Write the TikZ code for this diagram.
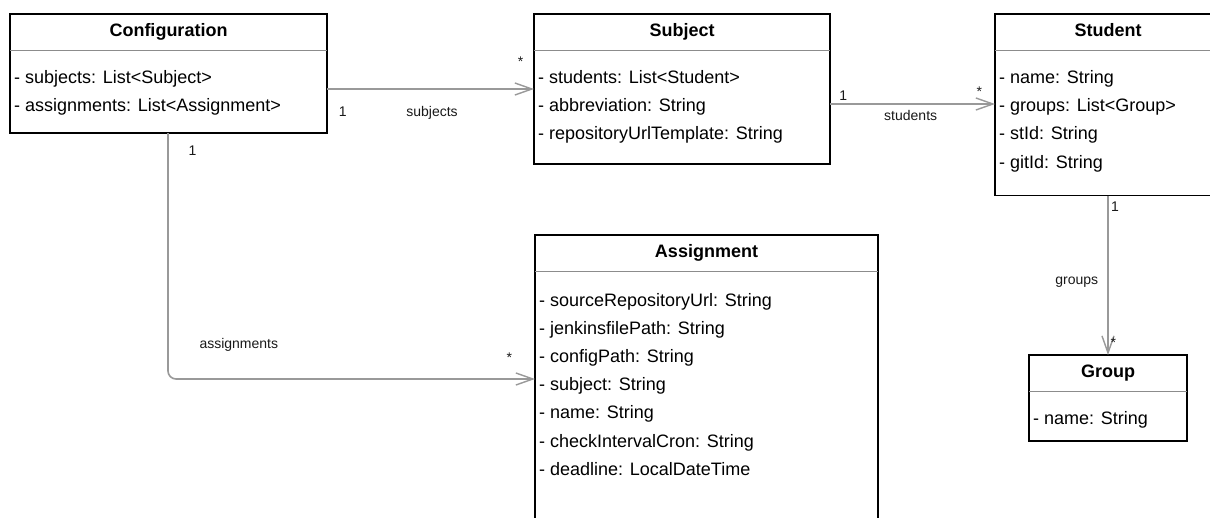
\documentclass[tikz,border=0pt]{standalone}
\usepackage{fontspec}
\setmainfont{Liberation Sans}
\usetikzlibrary{arrows.meta}

\begin{document}
\begin{tikzpicture}[x=1pt,y=-1pt,
  classbox/.style={draw=black, line width=1.4pt, rectangle, inner sep=0pt, outer sep=0pt, anchor=north west},
  divider/.style={draw=black!45, line width=0.9pt},
  title/.style={font=\bfseries\fontsize{18}{18}\selectfont, anchor=base, inner sep=0pt},
  attr/.style={font=\fontsize{18}{18}\selectfont, anchor=base west, inner sep=0pt},
  lbl/.style={font=\fontsize{14}{14}\selectfont, anchor=base, inner sep=0pt, text=black!90},
  assoc/.style={draw=black!40, line width=1.6pt, -{Straight Barb[length=17pt,width=12pt,line width=1.4pt]}},
]
\fill[white] (0,0) rectangle (1210,517);
\useasboundingbox (0,0) rectangle (1210,517);
\clip (0,0) rectangle (1210,517);

% class boxes
\node[classbox, minimum width=317pt, minimum height=119pt] (conf) at (10,14) {};
\node[classbox, minimum width=296pt, minimum height=150pt] (subj) at (534,14) {};
\node[classbox, minimum width=230pt, minimum height=181.5pt] (stud) at (995,14) {};
\node[classbox, minimum width=343pt, minimum height=300pt] (asg) at (535,235) {};
\node[classbox, minimum width=158pt, minimum height=86pt] (grp) at (1029,355) {};

% header separators
\foreach \c in {conf,subj,stud,asg,grp}
  \draw[divider] ([yshift=-36.5pt]\c.north west) -- ([yshift=-36.5pt]\c.north east);

% titles
\node[title] (confT) at ([yshift=-22.5pt]conf.north) {Configuration};
\node[title] (subjT) at ([yshift=-22.5pt]subj.north) {Subject};
\node[title] (studT) at ([yshift=-22.5pt]stud.north west -| 1108,0) {Student};
\node[title] (asgT) at ([yshift=-22.5pt]asg.north) {Assignment};
\node[title] (grpT) at ([yshift=-22.5pt]grp.north) {Group};

% attributes
\node[attr] (c1) at ([xshift=4pt,yshift=-69.5pt]conf.north west) {- subjects: List<Subject>};
\node[attr] (c2) at ([xshift=4pt,yshift=-97.8pt]conf.north west) {- assignments: List<Assignment>};

\node[attr] (s1) at ([xshift=4pt,yshift=-69.5pt]subj.north west) {- students: List<Student>};
\node[attr] (s2) at ([xshift=4pt,yshift=-97.5pt]subj.north west) {- abbreviation: String};
\node[attr] (s3) at ([xshift=4pt,yshift=-125.5pt]subj.north west) {- repositoryUrlTemplate: String};

\node[attr] (t1) at ([xshift=4pt,yshift=-69.5pt]stud.north west) {- name: String};
\node[attr] (t2) at ([xshift=4pt,yshift=-97.5pt]stud.north west) {- groups: List<Group>};
\node[attr] (t3) at ([xshift=4pt,yshift=-125.8pt]stud.north west) {- stId: String};
\node[attr] (t4) at ([xshift=4pt,yshift=-154.2pt]stud.north west) {- gitId: String};

\node[attr] (a1) at ([xshift=4pt,yshift=-71pt]asg.north west) {- sourceRepositoryUrl: String};
\node[attr] (a2) at ([xshift=4pt,yshift=-99.2pt]asg.north west) {- jenkinsfilePath: String};
\node[attr] (a3) at ([xshift=4pt,yshift=-127.4pt]asg.north west) {- configPath: String};
\node[attr] (a4) at ([xshift=4pt,yshift=-155.6pt]asg.north west) {- subject: String};
\node[attr] (a5) at ([xshift=4pt,yshift=-183.8pt]asg.north west) {- name: String};
\node[attr] (a6) at ([xshift=4pt,yshift=-212pt]asg.north west) {- checkIntervalCron: String};
\node[attr] (a7) at ([xshift=4pt,yshift=-240.2pt]asg.north west) {- deadline: LocalDateTime};

\node[attr] (g1) at ([xshift=4pt,yshift=-69pt]grp.north west) {- name: String};

% associations
\draw[assoc] ([yshift=-75pt]conf.north east) -- ([yshift=-75pt]subj.north west);
\draw[assoc] ([yshift=-90pt]subj.north east) -- ([yshift=-90pt]stud.north west);
\draw[assoc, rounded corners=8pt] ([xshift=158pt]conf.south west) |- ([yshift=-144pt]asg.north west);
\draw[assoc] (grp.north |- stud.south) -- (grp.north);

% role names and multiplicities
\node[lbl] (m1) at (342.7,116.7) {1};
\node[lbl] (r1) at (432,116) {subjects};
\node[lbl] (m2) at (520.7,66) {*};

\node[lbl] (m3) at (843.3,100) {1};
\node[lbl] (r2) at (910.7,120.5) {students};
\node[lbl] (m4) at (979.3,96.5) {*};

\node[lbl] (m5) at (192.5,155) {1};
\node[lbl] (r3) at (238.8,348) {assignments};
\node[lbl] (m6) at (509.3,362) {*};

\node[lbl] (m7) at (1115,211.7) {1};
\node[lbl] (r4) at (1076.7,284.3) {groups};
\node[lbl] (m8) at (1113.3,347.7) {*};
\end{tikzpicture}
\end{document}
